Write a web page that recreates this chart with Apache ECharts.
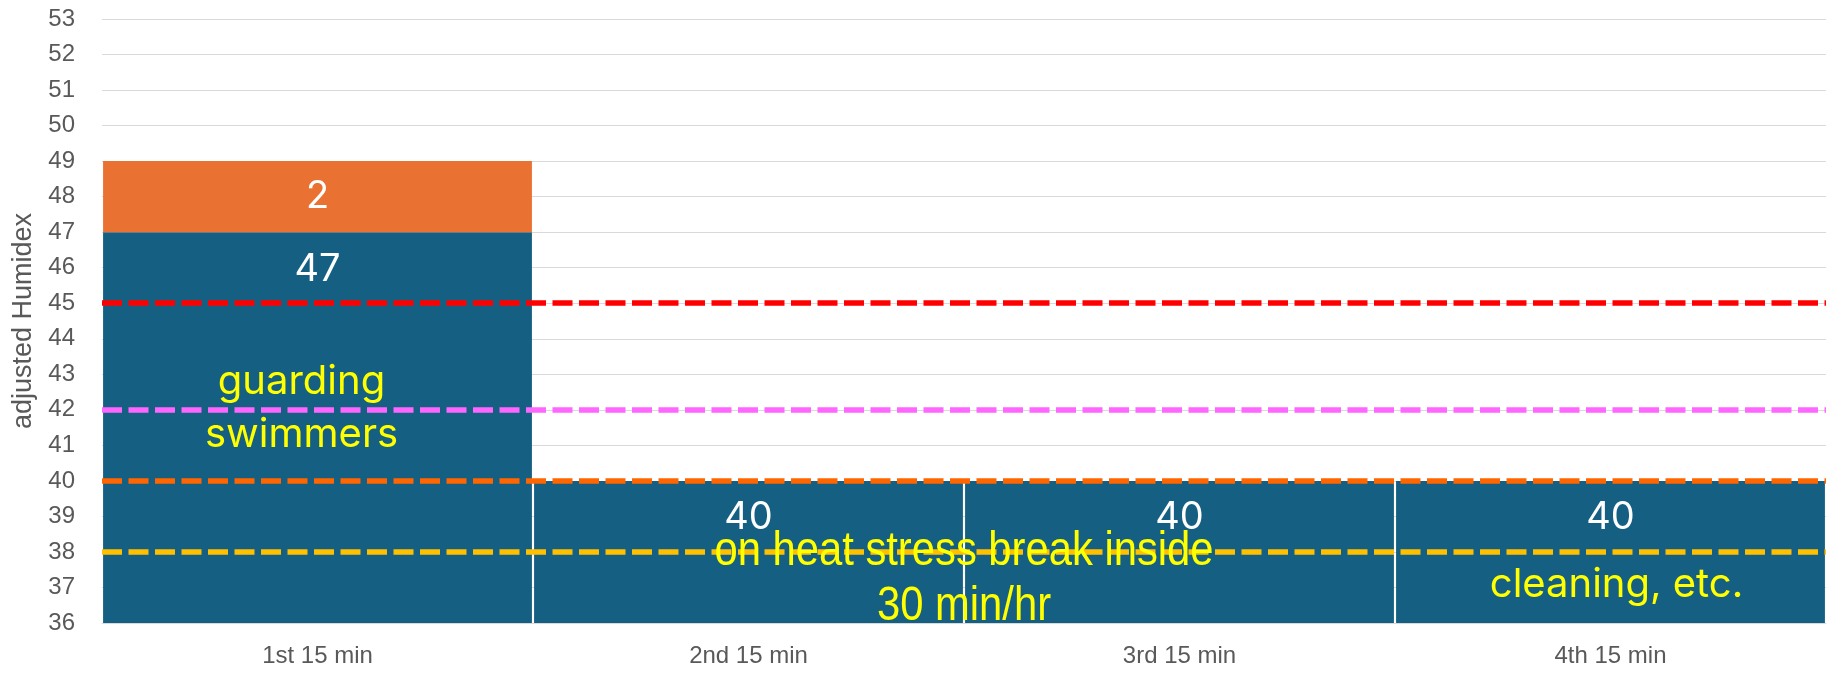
<!DOCTYPE html>
<html>
<head>
<meta charset="utf-8">
<script src="https://cdn.jsdelivr.net/npm/echarts@6/dist/echarts.min.js"></script>
<style>
html,body{margin:0;padding:0;background:#fff;}
#chart{width:1839px;height:679px;}
</style>
</head>
<body>
<div id="chart"></div>
<script>
const categories = ['1st 15 min', '2nd 15 min', '3rd 15 min', '4th 15 min'];
const baseValues = [47, 40, 40, 40];
const extraValues = [2, null, null, null];
const thresholdValues = [45, 42, 40, 38];
const yTicks = { min: 36, max: 53, interval: 1 };
const yAxisTitle = 'adjusted Humidex';
const noteTexts = ['guarding\nswimmers', 'cleaning, etc.'];
const noteCategories = ['1st 15 min', '4th 15 min'];
const noteValues = [42.05, 37.08];
const breakText = 'on heat stress break inside\n30 min/hr';
const breakCategories = ['2nd 15 min', '3rd 15 min'];
const breakValue = 37.23;

const thresholdColors = ['#FF0000', '#FF66FF', '#FF6600', '#FFC000'];
const noteStyles = [
  { offset: [-16, 0], fontSize: 40, lineHeight: 53 },
  { offset: [6, 0], fontSize: 40, lineHeight: 48 }
];

const chart = echarts.init(document.getElementById('chart'), null, { renderer: 'canvas' });

const option = {
  animation: false,
  backgroundColor: '#ffffff',
  grid: { left: 102, right: 13, top: 19, bottom: 56, containLabel: false },
  xAxis: {
    type: 'category',
    data: categories,
    axisTick: { show: false },
    axisLine: { show: true, lineStyle: { color: '#d9d9d9', width: 1 } },
    axisLabel: { color: '#595959', fontFamily: 'Liberation Sans', fontSize: 24, margin: 21 },
    splitLine: { show: false }
  },
  yAxis: {
    type: 'value',
    min: yTicks.min,
    max: yTicks.max,
    interval: yTicks.interval,
    name: yAxisTitle,
    nameLocation: 'middle',
    nameGap: 63,
    nameTextStyle: { color: '#595959', fontFamily: 'Liberation Sans', fontSize: 27 },
    axisLine: { show: false },
    axisTick: { show: false },
    axisLabel: { color: '#595959', fontFamily: 'Liberation Sans', fontSize: 24, margin: 27 },
    splitLine: { show: true, lineStyle: { color: '#d9d9d9', width: 1 } }
  },
  series: [
    {
      name: 'base',
      type: 'bar',
      stack: 'total',
      data: baseValues,
      barCategoryGap: '0.5%',
      itemStyle: { color: '#156082' },
      label: {
        show: true,
        position: 'insideTop',
        distance: 18,
        color: '#ffffff',
        fontFamily: 'Inter',
        fontSize: 38
      },
      markLine: {
        silent: true,
        symbol: 'none',
        label: { show: false },
        data: thresholdValues.map((v, i) => ({
          yAxis: v,
          lineStyle: { color: thresholdColors[i], width: 5.5, type: [20, 6.5], opacity: 1 }
        }))
      },
      markPoint: {
        silent: true,
        symbol: 'circle',
        symbolSize: 0,
        itemStyle: { color: 'rgba(0,0,0,0)' },
        data: noteTexts.map((t, i) => ({
          name: t,
          coord: [noteCategories[i], noteValues[i]],
          label: {
            show: true,
            position: 'inside',
            formatter: t,
            offset: noteStyles[i].offset,
            color: '#FFFF00',
            fontFamily: 'Inter',
            fontSize: noteStyles[i].fontSize,
            lineHeight: noteStyles[i].lineHeight,
            align: 'center',
            verticalAlign: 'middle'
          }
        }))
      }
    },
    {
      name: 'extra',
      type: 'bar',
      stack: 'total',
      data: extraValues,
      barCategoryGap: '0.5%',
      itemStyle: { color: '#E97132' },
      label: {
        show: true,
        position: 'inside',
        color: '#ffffff',
        fontFamily: 'Inter',
        fontSize: 38,
        formatter: p => (p.value == null ? '' : String(p.value))
      }
    }
  ]
};

chart.setOption(option);

// Condensed annotation spanning the 2nd and 3rd periods, placed through the chart's scales
const pA = chart.convertToPixel({ seriesIndex: 0 }, [breakCategories[0], breakValue]);
const pB = chart.convertToPixel({ seriesIndex: 0 }, [breakCategories[1], breakValue]);
chart.setOption({
  graphic: [{
    type: 'text',
    x: (pA[0] + pB[0]) / 2,
    y: pA[1],
    scaleX: 0.87,
    z: 10,
    silent: true,
    style: {
      text: breakText,
      fill: '#FFFF00',
      font: '48px "Liberation Sans"',
      align: 'center',
      verticalAlign: 'middle',
      lineHeight: 55
    }
  }]
});
</script>
</body>
</html>
